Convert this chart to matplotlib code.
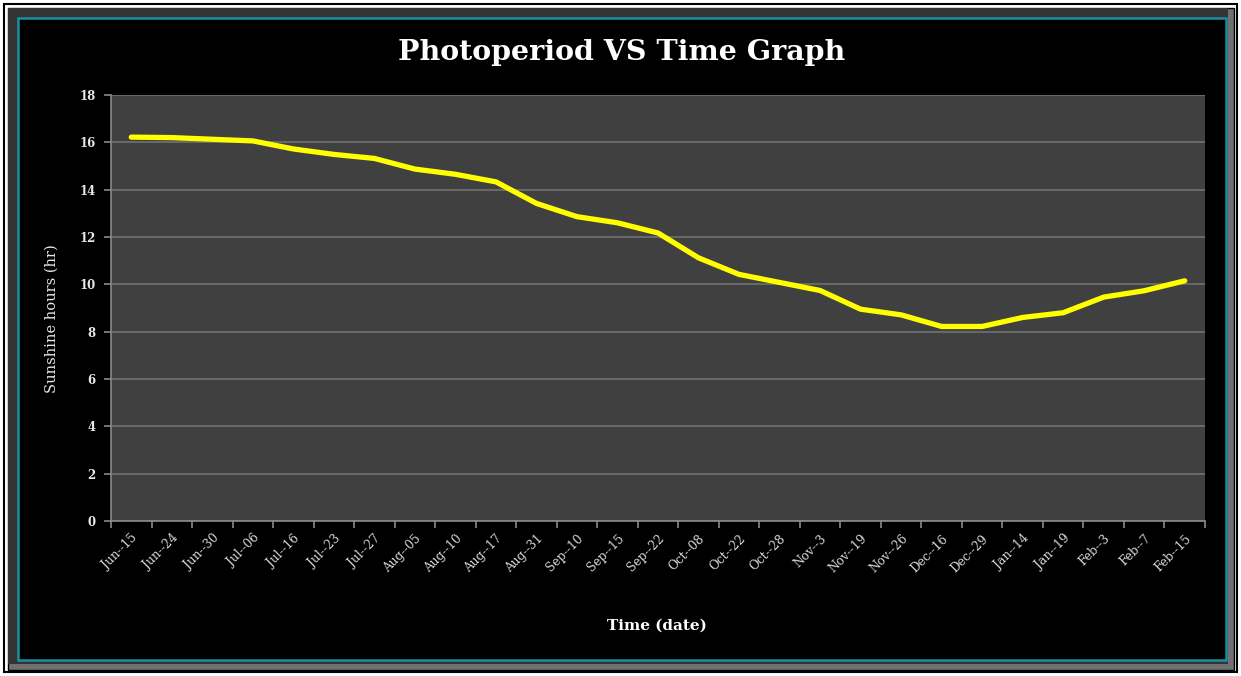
import matplotlib
matplotlib.use("Agg")
import matplotlib.pyplot as plt
from matplotlib.patches import Rectangle
import numpy as np

dates = ["Jun--15", "Jun--24", "Jun--30", "Jul--06", "Jul--16", "Jul--23", "Jul--27",
         "Aug--05", "Aug--10", "Aug--17", "Aug--31", "Sep--10", "Sep--15", "Sep--22",
         "Oct--08", "Oct--22", "Oct--28", "Nov--3", "Nov--19", "Nov--26", "Dec--16",
         "Dec--29", "Jan--14", "Jan--19", "Feb--3", "Feb--7", "Feb--15"]
hours = [16.22, 16.2, 16.13, 16.06, 15.72, 15.49, 15.32, 14.87, 14.65, 14.33, 13.42,
         12.86, 12.6, 12.17, 11.12, 10.42, 10.08, 9.74, 8.95, 8.71, 8.22, 8.22, 8.6,
         8.8, 9.46, 9.73, 10.15]
y_ticks = [0, 2, 4, 6, 8, 10, 12, 14, 16, 18]

W, H = 1241, 676
fig = plt.figure(figsize=(W / 100, H / 100), dpi=100)
fig.patch.set_facecolor("white")

def px_rect(x0, y0, x1, y1, z, **kw):
    r = Rectangle((x0 / W, 1 - y1 / H), (x1 - x0) / W, (y1 - y0) / H,
                  transform=fig.transFigure, zorder=z, **kw)
    fig.add_artist(r)

# outer border and frames
px_rect(4, 4, 1237, 672, -10, facecolor="white", edgecolor="black", linewidth=1.5)
px_rect(8, 8, 1234, 670, -9, facecolor="#707070", edgecolor="black", linewidth=1.0)
px_rect(8, 8, 1228, 664, -8, facecolor="#343434", edgecolor="none")
px_rect(18, 18, 1226, 660, -7, facecolor="black", edgecolor="#1a8fa0", linewidth=1.8)

left, right, top, bottom = 111, 1205, 95, 521
ax = fig.add_axes([left / W, 1 - bottom / H, (right - left) / W, (bottom - top) / H])
ax.set_zorder(5)
ax.set_facecolor("#404040")

x = np.arange(len(dates))
ax.plot(x, hours, color="#ffff00", linewidth=3.8, solid_capstyle="round",
        solid_joinstyle="round", zorder=3)

ax.set_xlim(-0.5, len(dates) - 0.5)
ax.set_ylim(0, 18)
ax.set_yticks(y_ticks)
ax.set_yticklabels([str(v) for v in y_ticks], fontsize=8.5, family="DejaVu Serif",
                   fontweight="bold", color="#e8e8e8")
ax.yaxis.grid(True, color="#6a6a6a", linewidth=1.4, zorder=1)
ax.set_axisbelow(True)

ax.set_xticks(x)
ax.set_xticklabels(dates, rotation=45, ha="right", rotation_mode="anchor",
                   fontsize=8.7, family="DejaVu Serif", color="#d8d8d8")
ax.set_xticks(np.arange(-0.5, len(dates), 1.0), minor=True)
ax.tick_params(axis="x", which="major", length=0, pad=8)
ax.tick_params(axis="x", which="minor", length=5, color="#8a8a8a", width=1.2)
ax.tick_params(axis="y", length=5, color="#8a8a8a", width=1.2, pad=6)

for s in ["top", "right"]:
    ax.spines[s].set_visible(False)
for s in ["left", "bottom"]:
    ax.spines[s].set_color("#8a8a8a")
    ax.spines[s].set_linewidth(1.2)

fig.text(622 / W, 1 - 52 / H, "Photoperiod VS Time Graph", ha="center", va="center",
         fontsize=20.5, fontweight="bold", family="DejaVu Serif", color="white")
fig.text(52 / W, 1 - 319 / H, "Sunshine hours (hr)", ha="center", va="center",
         rotation=90, fontsize=10.5, family="DejaVu Serif", color="#e8e8e8")
fig.text(657 / W, 1 - 626 / H, "Time (date)", ha="center", va="center",
         fontsize=11, fontweight="bold", family="DejaVu Serif", color="white")

fig.savefig("out.png", dpi=100, facecolor=fig.get_facecolor())
